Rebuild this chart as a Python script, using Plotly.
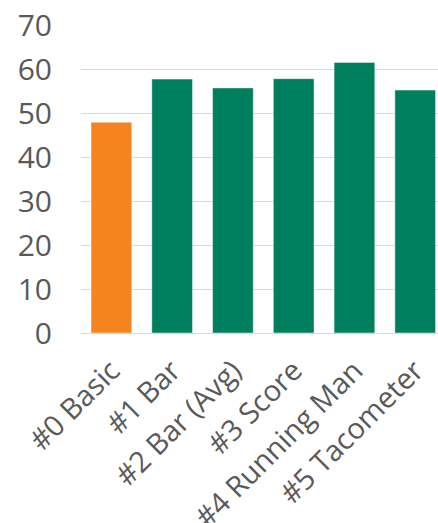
import plotly.graph_objects as go

categories = ["#0 Basic", "#1 Bar", "#2 Bar (Avg)", "#3 Score", "#4 Running Man", "#5 Tacometer"]
values = [47.9, 57.7, 55.7, 57.8, 61.5, 55.2]
colors = ["#F5841F", "#007F5F", "#007F5F", "#007F5F", "#007F5F", "#007F5F"]
y_ticks = [0, 10, 20, 30, 40, 50, 60, 70]

fig = go.Figure(go.Bar(
    x=categories, y=values,
    marker=dict(color=colors, line=dict(color="rgba(255,255,255,0.45)", width=1)),
))
fig.update_layout(
    width=438, height=523,
    margin=dict(l=81, r=0, t=25, b=190),
    paper_bgcolor="white", plot_bgcolor="white",
    bargap=0.33,
    showlegend=False,
    font=dict(family="Open Sans", color="#595959"),
)
fig.update_xaxes(
    range=[-0.5, 5.375], tickangle=-45, tickfont=dict(size=29, color="#595959"),
    showgrid=False, showline=True, linecolor="#D9D9D9", linewidth=1, ticks="",
    automargin=False, ticklabelstandoff=8,
)
fig.update_yaxes(
    range=[0, 70], tickvals=y_ticks, tickfont=dict(size=30, color="#595959"),
    showgrid=True, gridcolor="#D9D9D9", gridwidth=1, zeroline=False,
    ticklabelstandoff=28, automargin=False,
)
fig.write_html("out.html")
